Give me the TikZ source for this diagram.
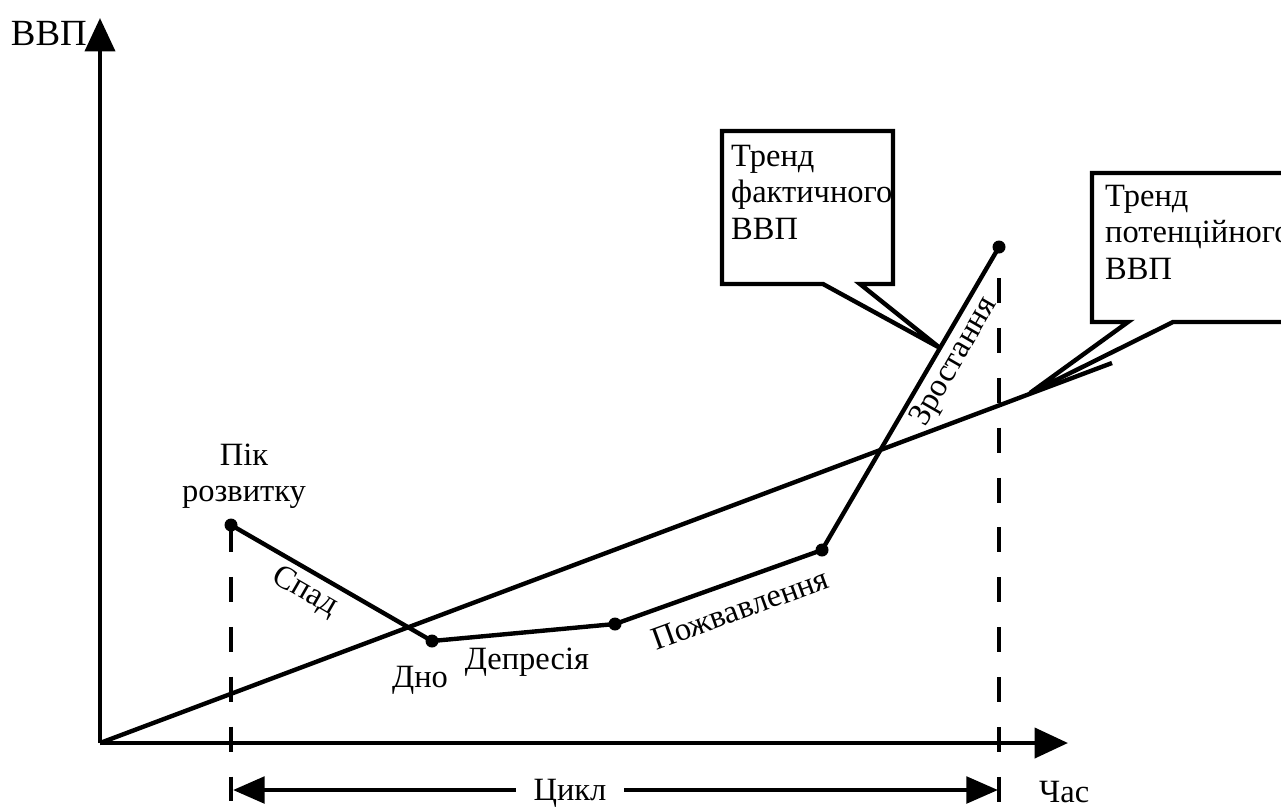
\documentclass[tikz,border=0pt]{standalone}
\usepackage{fontspec}
\setmainfont{Liberation Serif}
\usetikzlibrary{arrows.meta}

\begin{document}
\begin{tikzpicture}[x=0.02cm,y=-0.02cm,line width=2.5pt,
  >={Triangle[length=19pt,width=17pt]},
  font=\fontsize{18.5}{20.7}\selectfont]
  \tikzstyle{dot}=[circle,fill=black,inner sep=0pt,minimum size=7.4pt]
  \tikzstyle{guide}=[dash pattern=on 14.2pt off 14.2pt]
  \tikzstyle{boxtext}=[anchor=north west,inner sep=0pt,align=left]
  \tikzstyle{phase}=[inner sep=0pt]

  \useasboundingbox (0,0) rectangle (1281,809);
  \clip (0,0) rectangle (1281,809);

  % axes
  \coordinate (O)    at (100,743);
  \coordinate (ytop) at (100,18);
  \coordinate (xend) at (1068,743);
  \draw[->] (O) -- (ytop);
  \draw[->] (O) -- (xend);
  \node[anchor=base east,inner sep=0pt,font=\fontsize{21}{21}\selectfont] (gdp) at (89,45) {ВВП};
  \node[anchor=base west,inner sep=0pt] (time) at (1037,802) {Час};

  % trend of potential GDP
  \coordinate (trendend) at (1112,363);
  \draw (O) -- (trendend);

  % cycle points
  \node[dot] (peak)    at (231,525) {};
  \node[dot] (bottom)  at (432,641) {};
  \node[dot] (dep)     at (615,624) {};
  \node[dot] (revival) at (822,550) {};
  \node[dot] (top)     at (999,247) {};
  \draw (peak.center) -- (bottom.center) -- (dep.center) -- (revival.center) -- (top.center);

  % guide lines
  \coordinate (gl)   at (231,809);
  \coordinate (gtop) at (999,278);
  \coordinate (gr)   at (999,809);
  \draw[guide] (231,527) -- (gl);
  \draw[guide] (gtop) -- (gr);

  % cycle length
  \node[text height=12.4pt,text depth=0pt,inner xsep=9pt,inner ysep=0pt] (cycle) at (570,790) {Цикл};
  \coordinate (cl) at (233,790);
  \coordinate (cr) at (998,790);
  \draw[->,>={Triangle[length=18pt,width=15pt]}] (cycle) -- (cl);
  \draw[->,>={Triangle[length=18pt,width=15pt]}] (cycle) -- (cr);

  % phase labels
  \node[align=center] (peaklbl) at (244,476) {Пік\\розвитку};
  \node[phase,rotate=-30] (fall) at (305,592) {Спад};
  \node[phase] (bottomlbl) at (420,680) {Дно};
  \node[phase] (deplbl) at (527,662) {Депресія};
  \node[phase,rotate=20] (revlbl) at (740,609) {Пожвавлення};
  \node[phase,rotate=60] (growlbl) at (955,362) {Зростання};

  % callout: actual GDP trend
  \coordinate (facttip) at (940,348);
  \draw (893,284) -- (860,284) -- (facttip) -- (823,284) -- (722,284)
        -- (722,131) -- (893,131) -- cycle;
  \node[boxtext] (facttxt) at (729,143) {Тренд\\фактичного\\ВВП};

  % callout: potential GDP trend
  \coordinate (pottip) at (1030,393);
  \draw (1173,322) -- (pottip) -- (1128,322) -- (1092,322)
        -- (1092,173) -- (1300,173) -- (1300,322) -- cycle;
  \node[boxtext] (pottxt) at (1103,183) {Тренд\\потенційного\\ВВП};
\end{tikzpicture}
\end{document}
